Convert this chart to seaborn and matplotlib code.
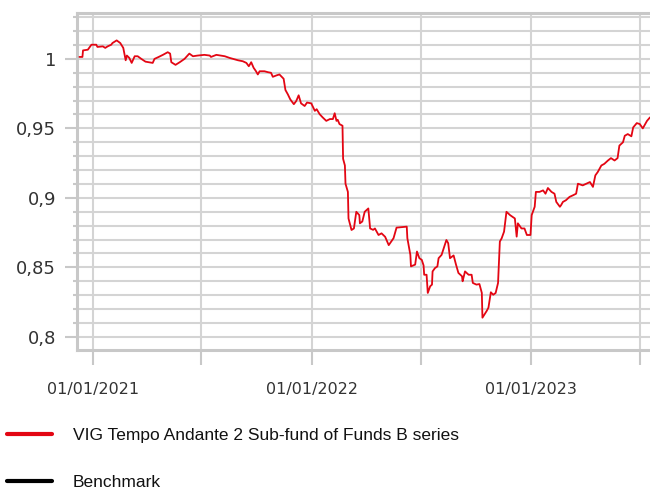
import matplotlib
matplotlib.use("Agg")
import matplotlib.pyplot as plt
import matplotlib.dates as mdates
from matplotlib.ticker import MultipleLocator, FuncFormatter
from matplotlib.lines import Line2D
import seaborn as sns
import pandas as pd

dates = [
    "2020-12-10", "2020-12-15", "2020-12-16", "2020-12-24", "2020-12-30", "2021-01-07",
    "2021-01-09", "2021-01-18", "2021-01-22", "2021-01-26", "2021-02-01", "2021-02-03",
    "2021-02-10", "2021-02-16", "2021-02-21", "2021-02-25", "2021-02-27", "2021-03-03",
    "2021-03-07", "2021-03-12", "2021-03-17", "2021-03-23", "2021-03-30", "2021-04-11",
    "2021-04-14", "2021-04-21", "2021-04-28", "2021-05-06", "2021-05-10", "2021-05-12",
    "2021-05-19", "2021-05-26", "2021-06-03", "2021-06-11", "2021-06-17", "2021-06-25",
    "2021-07-06", "2021-07-15", "2021-07-17", "2021-07-26", "2021-08-09", "2021-08-17",
    "2021-08-23", "2021-08-31", "2021-09-08", "2021-09-14", "2021-09-18", "2021-09-22",
    "2021-09-26", "2021-09-30", "2021-10-03", "2021-10-06", "2021-10-14", "2021-10-20",
    "2021-10-25", "2021-10-28", "2021-11-03", "2021-11-08", "2021-11-15", "2021-11-18",
    "2021-11-22", "2021-11-26", "2021-12-02", "2021-12-06", "2021-12-10", "2021-12-14",
    "2021-12-20", "2021-12-24", "2021-12-31", "2022-01-06", "2022-01-09", "2022-01-14",
    "2022-01-19", "2022-01-25", "2022-01-31", "2022-02-05", "2022-02-08", "2022-02-11",
    "2022-02-13", "2022-02-16", "2022-02-21", "2022-02-22", "2022-02-25", "2022-02-26",
    "2022-03-02", "2022-03-03", "2022-03-08", "2022-03-12", "2022-03-16", "2022-03-21",
    "2022-03-22", "2022-03-26", "2022-03-30", "2022-04-05", "2022-04-08", "2022-04-13",
    "2022-04-16", "2022-04-22", "2022-04-27", "2022-05-03", "2022-05-09", "2022-05-17",
    "2022-05-22", "2022-06-08", "2022-06-09", "2022-06-14", "2022-06-15", "2022-06-22",
    "2022-06-25", "2022-06-29", "2022-07-03", "2022-07-06", "2022-07-07", "2022-07-11",
    "2022-07-13", "2022-07-17", "2022-07-20", "2022-07-21", "2022-07-25", "2022-07-29",
    "2022-07-31", "2022-08-05", "2022-08-13", "2022-08-16", "2022-08-19", "2022-08-25",
    "2022-08-29", "2022-09-02", "2022-09-08", "2022-09-09", "2022-09-13", "2022-09-19",
    "2022-09-24", "2022-09-26", "2022-10-02", "2022-10-07", "2022-10-11", "2022-10-12",
    "2022-10-19", "2022-10-22", "2022-10-26", "2022-10-30", "2022-11-03", "2022-11-07",
    "2022-11-10", "2022-11-13", "2022-11-17", "2022-11-21", "2022-11-27", "2022-12-01",
    "2022-12-05", "2022-12-08", "2022-12-10", "2022-12-16", "2022-12-21", "2022-12-25",
    "2022-12-31", "2023-01-02", "2023-01-07", "2023-01-09", "2023-01-15", "2023-01-21",
    "2023-01-25", "2023-01-29", "2023-02-04", "2023-02-09", "2023-02-12", "2023-02-18",
    "2023-02-20", "2023-02-23", "2023-02-28", "2023-03-06", "2023-03-12", "2023-03-17",
    "2023-03-20", "2023-03-28", "2023-04-03", "2023-04-09", "2023-04-14", "2023-04-18",
    "2023-04-22", "2023-04-28", "2023-05-03", "2023-05-09", "2023-05-14", "2023-05-20",
    "2023-05-25", "2023-05-28", "2023-06-03", "2023-06-06", "2023-06-11", "2023-06-17",
    "2023-06-20", "2023-06-26", "2023-07-01", "2023-07-06", "2023-07-13", "2023-07-18",
]
fund_values = [
    1.0014, 1.0014, 1.0061, 1.0066, 1.0102, 1.0102,
    1.0086, 1.0090, 1.0079, 1.0090, 1.0102, 1.0114,
    1.0133, 1.0114, 1.0079, 0.9990, 1.0024, 1.0007,
    0.9971, 1.0019, 1.0019, 1.0000, 0.9980, 0.9971,
    1.0000, 1.0014, 1.0029, 1.0048, 1.0038, 0.9976,
    0.9957, 0.9976, 1.0000, 1.0038, 1.0019, 1.0024,
    1.0029, 1.0024, 1.0014, 1.0029, 1.0019, 1.0007,
    1.0000, 0.9990, 0.9983, 0.9971, 0.9947, 0.9976,
    0.9936, 0.9911, 0.9888, 0.9911, 0.9911, 0.9904,
    0.9900, 0.9871, 0.9881, 0.9888, 0.9857, 0.9776,
    0.9745, 0.9709, 0.9674, 0.9697, 0.9738, 0.9680,
    0.9661, 0.9686, 0.9680, 0.9626, 0.9638, 0.9602,
    0.9579, 0.9554, 0.9567, 0.9567, 0.9609, 0.9554,
    0.9562, 0.9531, 0.9519, 0.9281, 0.9233, 0.9102,
    0.9043, 0.8852, 0.8769, 0.8780, 0.8900, 0.8876,
    0.8817, 0.8830, 0.8900, 0.8924, 0.8780, 0.8770,
    0.8780, 0.8733, 0.8745, 0.8720, 0.8660, 0.8710,
    0.8786, 0.8793, 0.8710, 0.8590, 0.8507, 0.8520,
    0.8614, 0.8566, 0.8554, 0.8514, 0.8447, 0.8447,
    0.8316, 0.8364, 0.8376, 0.8471, 0.8495, 0.8507,
    0.8566, 0.8590, 0.8697, 0.8674, 0.8566, 0.8586,
    0.8520, 0.8460, 0.8436, 0.8400, 0.8471, 0.8447,
    0.8447, 0.8388, 0.8376, 0.8380, 0.8316, 0.8138,
    0.8186, 0.8210, 0.8321, 0.8303, 0.8316, 0.8388,
    0.8686, 0.8709, 0.8757, 0.8900, 0.8876, 0.8864,
    0.8852, 0.8721, 0.8817, 0.8780, 0.8780, 0.8733,
    0.8733, 0.8876, 0.8936, 0.9043, 0.9043, 0.9054,
    0.9030, 0.9071, 0.9043, 0.9030, 0.8971, 0.8936,
    0.8948, 0.8971, 0.8983, 0.9007, 0.9019, 0.9030,
    0.9102, 0.9090, 0.9102, 0.9114, 0.9079, 0.9162,
    0.9186, 0.9233, 0.9245, 0.9269, 0.9286, 0.9269,
    0.9286, 0.9376, 0.9400, 0.9447, 0.9459, 0.9443,
    0.9507, 0.9538, 0.9531, 0.9500, 0.9554, 0.9579,
]
series_labels = ["VIG Tempo Andante 2 Sub-fund of Funds B series", "Benchmark"]
series_colors = ["#e30613", "#000000"]

df = pd.DataFrame({"date": pd.to_datetime(dates), "value": fund_values})

sns.set_style("white")
plt.rcParams["font.family"] = ["DejaVu Sans"]

fig = plt.figure(figsize=(6.5, 4.91), dpi=100)
ax = fig.add_axes([0.1185, 0.287, 0.8815, 0.6865])

grid_c = "#d4d4d4"
spine_c = "#c8c8c8"

sns.lineplot(data=df, x="date", y="value", ax=ax, color=series_colors[0],
             linewidth=1.3, legend=False, zorder=3)

ax.set_xlim(pd.Timestamp("2020-12-06"), pd.Timestamp("2023-07-18"))
ax.set_ylim(0.7905, 1.033)

ax.xaxis.set_major_locator(mdates.MonthLocator(bymonth=(1, 7)))
ax.xaxis.set_major_formatter(
    FuncFormatter(lambda v, p: mdates.num2date(v).strftime("%d/%m/%Y")
                  if mdates.num2date(v).month == 1 else ""))
ax.yaxis.set_major_locator(MultipleLocator(0.05))
ax.yaxis.set_minor_locator(MultipleLocator(0.01))
ax.yaxis.set_major_formatter(FuncFormatter(lambda v, p: f"{v:g}".replace(".", ",")))

ax.grid(True, which="major", axis="x", color=grid_c, linewidth=1.5)
ax.grid(True, which="both", axis="y", color=grid_c, linewidth=1.5)
ax.set_axisbelow(True)

for s in ["left", "top", "bottom"]:
    ax.spines[s].set_visible(True)
    ax.spines[s].set_color(spine_c)
    ax.spines[s].set_linewidth(2.2)
ax.spines["right"].set_visible(False)

ax.tick_params(axis="y", which="major", length=9, width=1.5, color=spine_c,
               labelsize=13, labelcolor="#333333", pad=6, left=True)
ax.tick_params(axis="y", which="minor", length=3, width=1.5, color=spine_c, left=True)
ax.tick_params(axis="x", which="major", length=11, width=1.5, color=spine_c,
               labelsize=11.5, labelcolor="#333333", pad=12, bottom=True)
ax.set_xlabel("")
ax.set_ylabel("")

handles = [Line2D([], [], color=c, linewidth=3) for c in series_colors]
leg = fig.legend(handles, series_labels, loc="upper left",
                 bbox_to_anchor=(0.0108, 0.128), frameon=False,
                 prop={"family": "Liberation Sans", "size": 12.5},
                 handlelength=2.6, handletextpad=1.2, labelspacing=1.8,
                 borderaxespad=0.0, borderpad=0.0)
for t in leg.get_texts():
    t.set_color("#111111")

fig.savefig("out.png", dpi=100)
